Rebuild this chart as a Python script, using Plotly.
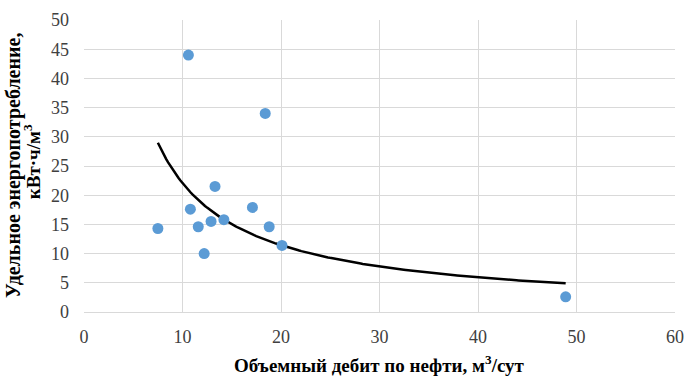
import numpy as np
import plotly.graph_objects as go

# Data
oil_rate = [7.5, 10.6, 10.8, 11.6, 12.2, 12.9, 13.3, 14.2, 17.1, 18.4, 18.8, 20.1, 48.9]
energy = [14.3, 44.0, 17.6, 14.6, 10.0, 15.5, 21.5, 15.8, 17.9, 34.0, 14.6, 11.4, 2.6]
x_ticks = [0, 10, 20, 30, 40, 50, 60]
y_ticks = [0, 5, 10, 15, 20, 25, 30, 35, 40, 45, 50]

# Power trendline fitted to the data (least squares in log space, like Excel)
lx = np.log(oil_rate)
ly = np.log(energy)
b, ln_a = np.polyfit(lx, ly, 1)
xs = np.linspace(min(oil_rate), max(oil_rate), 200)
ys = np.exp(ln_a) * xs ** b

SERIF = "Liberation Serif"
tick_font = dict(family=SERIF, size=18, color="#404040")

fig = go.Figure()
fig.add_trace(go.Scatter(x=xs, y=ys, mode="lines",
                         line=dict(color="black", width=2.5), hoverinfo="skip"))
fig.add_trace(go.Scatter(x=oil_rate, y=energy, mode="markers",
                         marker=dict(color="#5b9bd5", size=11)))

fig.update_layout(
    width=694, height=377,
    margin=dict(l=84, r=10, t=10, b=65),
    plot_bgcolor="white", paper_bgcolor="white",
    showlegend=False,
    font=dict(family=SERIF, size=18, color="#404040"),
    xaxis=dict(range=[0, 60], tickvals=x_ticks, showgrid=True,
               gridcolor="#d9d9d9", gridwidth=1, zeroline=False, showline=True,
               linecolor="#d9d9d9", ticks="", tickfont=tick_font, ticklabelstandoff=8),
    yaxis=dict(range=[0, 50], tickvals=y_ticks, showgrid=True,
               gridcolor="#d9d9d9", gridwidth=1, zeroline=False, showline=False,
               ticks="", tickfont=tick_font, ticklabelstandoff=14),
    annotations=[
        dict(text="<b>Объемный дебит по нефти, м<sup>3</sup>/сут</b>",
             xref="paper", yref="paper", x=0.5, y=0, yshift=-52, showarrow=False,
             xanchor="center", yanchor="middle",
             font=dict(family=SERIF, size=19, color="black")),
        dict(text="<b>Удельное энергопотребление,</b>",
             xref="paper", yref="paper", x=0, xshift=-71, y=0.503, showarrow=False,
             textangle=-90, xanchor="center", yanchor="middle",
             font=dict(family=SERIF, size=20, color="black")),
        dict(text="<b>кВт·ч/м<sup>3</sup></b>",
             xref="paper", yref="paper", x=0, xshift=-52, y=0.513, showarrow=False,
             textangle=-90, xanchor="center", yanchor="middle",
             font=dict(family=SERIF, size=19, color="black")),
    ],
)

fig.write_html("out.html", config={"displayModeBar": False},
               post_script="document.body.style.margin='0';document.body.style.overflow='hidden';")
